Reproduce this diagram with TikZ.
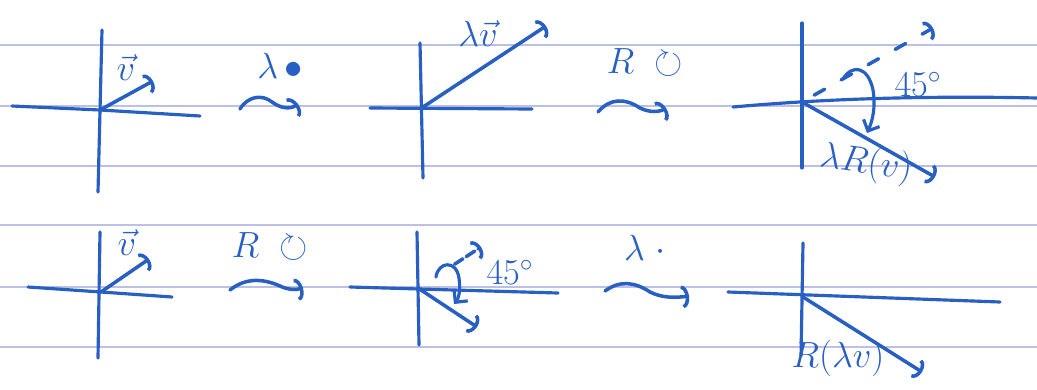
\documentclass[tikz,border=0pt]{standalone}
\usepackage{amsmath}
\usepackage{amssymb}
\usepackage{xcolor}
\usepackage{tikz}
\usetikzlibrary{arrows.meta, calc}
\definecolor{ink}{RGB}{40,95,195}
\definecolor{ruling}{RGB}{188,192,228}
\tikzset{
  ruled/.style={draw=ruling, line width=1.6pt},
  axis/.style={draw=ink, line width=1.8pt, line cap=round},
  vec/.style={draw=ink, line width=2pt, line cap=round, -{Arc Barb[length=4pt,width=12pt]}},
  ghostvec/.style={vec, dash pattern=on 0.24cm off 0.38cm, dash phase=0.34cm},
  turn/.style={draw=ink, line width=1.8pt, line cap=round, -{Straight Barb[length=5pt,width=10pt]}},
  squiggle/.style={draw=ink, line width=2pt, line cap=round, -{Arc Barb[length=4pt,width=13pt]}},
  lbl/.style={text=ink, font=\huge, inner sep=0pt}
}

\begin{document}
\begin{tikzpicture}[x=0.02cm, y=-0.02cm]

%% paper
\fill[white] (0,0) rectangle (1037,389);
\useasboundingbox (0,0) rectangle (1037,389);
\foreach \y in {45,106,166,225,287,347}
  \draw[ruled] (0,\y) -- (1037,\y);

%% top row: v
\coordinate (o1) at (100,110);
\coordinate (n1) at (102,30);
\coordinate (s1) at (98,192);
\coordinate (w1) at (12,106);
\coordinate (e1) at (200,116);
\coordinate (v1) at (153,81);
\draw[axis] (n1) -- (s1);
\draw[axis] (w1) -- (o1) -- (e1);
\draw[vec] (o1) -- (v1);
\node[lbl] (lv1) at (126,68) {$\vec{v}$};

% scale first
\coordinate (a1) at (240,109);
\coordinate (b1) at (298,104);
\draw[squiggle] (a1) .. controls (248,96) and (262,94) .. (272,102) .. controls (280,108) and (290,110) .. (b1);
\node[lbl] (op1) at (280,66) {$\lambda\,\bullet$};

%% top row: lambda v
\coordinate (o2) at (423,107);
\coordinate (n2) at (420,43);
\coordinate (s2) at (423,178);
\coordinate (w2) at (370,108);
\coordinate (e2) at (532,109);
\coordinate (v2) at (546,26);
\draw[axis] (n2) -- (s2);
\draw[axis] (w2) -- (e2);
\draw[vec] (o2) -- (v2);
\node[lbl] (lv2) at (478,34) {$\lambda\vec{v}$};

% then rotate
\coordinate (a2) at (598,112);
\coordinate (b2) at (666,108);
\draw[squiggle] (a2) .. controls (610,98) and (625,98) .. (640,108) .. controls (650,113) and (660,112) .. (b2);
\node[lbl] (op2) at (645,63) {$R\;\circlearrowright$};

%% top row: lambda R(v)
\coordinate (o3) at (802,102);
\coordinate (n3) at (802,23);
\coordinate (s3) at (802,168);
\coordinate (w3) at (733,107);
\coordinate (e3) at (1037,98);
\coordinate (u3) at (933,28);
\coordinate (r3) at (935,177);
\coordinate (p3) at (843,79);
\coordinate (q3) at (867,133);
\draw[axis] (n3) -- (s3);
\draw[axis] (w3) .. controls (800,101) and (900,95) .. (e3);
\draw[ghostvec] (o3) -- (u3);
\draw[vec] (o3) -- (r3);
\draw[turn] (p3) .. controls (852,64) and (868,66) .. (873,90) .. controls (876,108) and (872,122) .. (q3);
\node[lbl] (ang3) at (918,84) {$45^\circ$};
\node[lbl, rotate=-8] (lv3) at (866,164) {$\lambda R(v)$};

%% bottom row: v
\coordinate (o4) at (101,292);
\coordinate (n4) at (100,232);
\coordinate (s4) at (98,358);
\coordinate (w4) at (28,287);
\coordinate (e4) at (172,297);
\coordinate (v4) at (149,259);
\draw[axis] (n4) -- (s4);
\draw[axis] (w4) -- (o4) -- (e4);
\draw[vec] (o4) -- (v4);
\node[lbl] (lv4) at (127,243) {$\vec{v}$};

% rotate first
\coordinate (a3) at (230,290);
\coordinate (b3) at (303,288);
\draw[squiggle] (a3) .. controls (245,278) and (262,278) .. (280,286) .. controls (288,290) and (296,290) .. (b3);
\node[lbl] (op3) at (270,247) {$R\;\circlearrowright$};

%% bottom row: R(v)
\coordinate (o5) at (418,288);
\coordinate (n5) at (417,232);
\coordinate (s5) at (419,345);
\coordinate (w5) at (350,287);
\coordinate (e5) at (558,293);
\coordinate (u5) at (481,247);
\coordinate (r5) at (477,327);
\coordinate (p5) at (436,277);
\coordinate (q5) at (454,304);
\draw[axis] (n5) -- (s5);
\draw[axis] (w5) -- (e5);
\draw[vec, dash pattern=on 0.2cm off 0.08cm] ($(o5)!0.58!(u5)$) -- (u5);
\draw[vec] (o5) -- (r5);
\draw[turn] (p5) .. controls (438,262) and (456,259) .. (459,278) .. controls (461,292) and (458,299) .. (q5);
\node[lbl] (ang5) at (510,272) {$45^\circ$};

% then scale
\coordinate (a4) at (605,291);
\coordinate (b4) at (689,296);
\draw[squiggle] (a4) .. controls (620,280) and (635,282) .. (650,292) .. controls (662,298) and (675,298) .. (b4);
\node[lbl] (op4) at (645,248) {$\lambda\ \cdot$};

%% bottom row: R(lambda v)
\coordinate (o6) at (803,297);
\coordinate (n6) at (803,243);
\coordinate (s6) at (801,356);
\coordinate (w6) at (728,292);
\coordinate (e6) at (1000,302);
\coordinate (r6) at (922,372);
\draw[axis] (n6) -- (s6);
\draw[axis] (w6) -- (e6);
\draw[vec] (o6) -- (r6);
\node[lbl] (lv6) at (838,358) {$R(\lambda v)$};

\end{tikzpicture}
\end{document}
